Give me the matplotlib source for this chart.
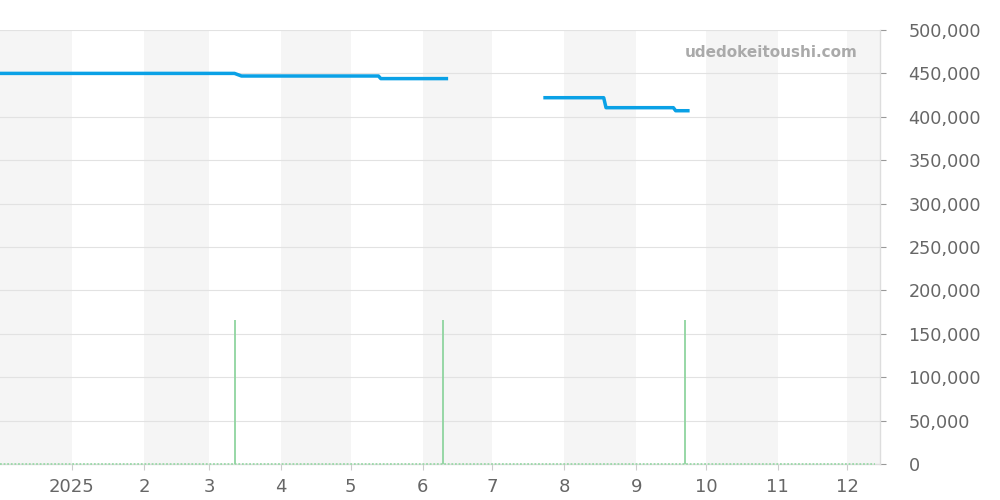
import matplotlib
matplotlib.use("Agg")
import matplotlib.pyplot as plt
import pandas as pd

# Price line (step change points); None marks the gap
price_dates = ["2024-12-01", "2025-03-12", "2025-03-15", "2025-05-13", "2025-05-14", "2025-06-12",
               None,
               "2025-07-23", "2025-08-18", "2025-08-19", "2025-09-17", "2025-09-18", "2025-09-24"]
price_values = [450000, 450000, 447000, 447000, 444000, 444000,
                None,
                422000, 422000, 410500, 410500, 407000, 407000]

# Volume bars
volume_dates = ["2025-03-12", "2025-06-10", "2025-09-22"]
volume_values = [166000, 166000, 166000]

x_start, x_end = "2024-12-01", "2025-12-15"
month_labels = ["2025", "2", "3", "4", "5", "6", "7", "8", "9", "10", "11", "12"]
yticks = [0, 50000, 100000, 150000, 200000, 250000, 300000, 350000, 400000, 450000, 500000]

fig = plt.figure(figsize=(10, 5), dpi=100)
ax = fig.add_axes([0.0, 0.072, 0.88, 0.868])

# alternate month shading
months = pd.date_range("2024-12-01", "2026-01-01", freq="MS")
for i in range(len(months) - 1):
    if i % 2 == 0:
        ax.axvspan(months[i], months[i + 1], color="#f5f5f5", lw=0, zorder=0)

# grid
for y in yticks:
    ax.axhline(y, color="#e2e2e2", lw=0.8, zorder=1)

# price segments
seg_x, seg_y = [], []
segments = []
for d, v in zip(price_dates, price_values):
    if d is None:
        segments.append((seg_x, seg_y))
        seg_x, seg_y = [], []
    else:
        seg_x.append(pd.Timestamp(d))
        seg_y.append(v)
segments.append((seg_x, seg_y))
for sx, sy in segments:
    ax.plot(sx, sy, color="#0aa1e6", lw=2.5, zorder=4, solid_capstyle="butt")

# volume
ax.plot([pd.Timestamp(x_start), pd.Timestamp("2025-12-13")], [0, 0], color="#9ad9a8",
        lw=1.3, ls=(0, (1, 1)), zorder=3, clip_on=False)
ax.vlines([pd.Timestamp(d) for d in volume_dates], 0, volume_values, color="#8fd49f",
          lw=1.3, zorder=3)

ax.set_xlim(pd.Timestamp(x_start), pd.Timestamp(x_end))
ax.set_ylim(0, 500000)

ax.yaxis.tick_right()
ax.set_yticks(yticks)
ax.set_yticklabels([f"{v:,}" for v in yticks])
ticks = pd.date_range("2025-01-01", "2025-12-01", freq="MS")
ax.set_xticks(ticks)
ax.set_xticklabels(month_labels)
ax.tick_params(axis="y", length=4.5, color="#999999", labelsize=12.7, labelcolor="#666666", pad=16)
ax.tick_params(axis="x", length=4, color="#cccccc", labelsize=13, labelcolor="#666666", pad=6)

for s in ["top", "left"]:
    ax.spines[s].set_visible(False)
ax.spines["right"].set_color("#dddddd")
ax.spines["right"].set_linewidth(1)
ax.spines["bottom"].set_color("#dddddd")
ax.spines["bottom"].set_linewidth(1)

ax.text(0.975, 0.949, "udedokeitoushi.com", transform=ax.transAxes, ha="right", va="center",
        fontsize=11, fontweight="bold", color="#aaaaaa", zorder=5)

fig.savefig("out.png", dpi=100)
